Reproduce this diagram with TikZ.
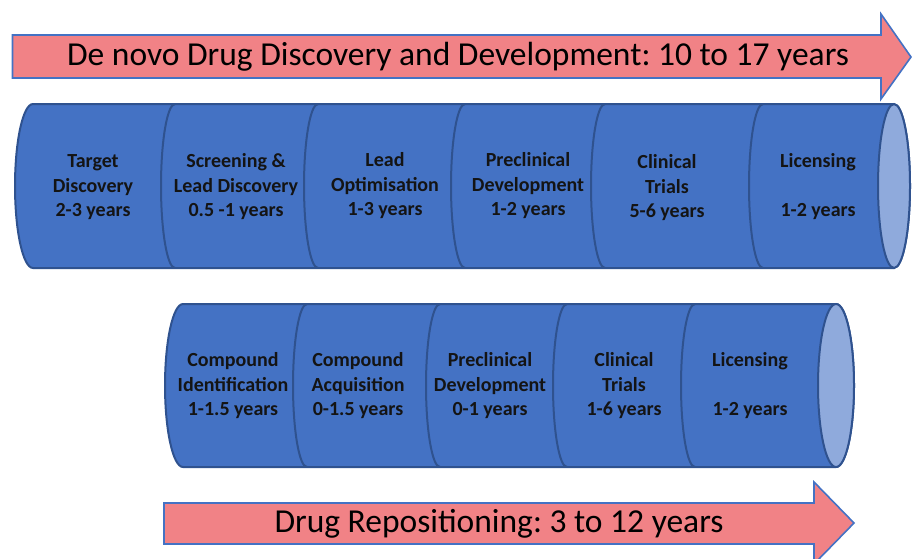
\documentclass[tikz,border=0pt]{standalone}
\usepackage{fontspec}
\setmainfont{Carlito}
\frenchspacing
\definecolor{arrfill}{RGB}{241,130,134}
\definecolor{arrline}{RGB}{68,114,196}
\definecolor{cylfill}{RGB}{68,114,196}
\definecolor{cylline}{RGB}{47,82,143}
\definecolor{capfill}{RGB}{143,170,220}
\tikzset{
  arrowshape/.style={fill=arrfill, draw=arrline, line width=1.6pt, line join=miter},
  cylbody/.style={fill=cylfill, draw=cylline, line width=2pt},
  cylcap/.style={fill=capfill, draw=cylline, line width=2pt},
  divider/.style={draw=cylline, line width=2pt},
  stagetext/.style={align=center, font=\fontsize{20}{24.5}\selectfont\bfseries, text=black!92, inner sep=0pt},
  titletext/.style={font=\fontsize{33.5}{38}\selectfont, text=black, inner sep=0pt}
}
\begin{document}
\begin{tikzpicture}[x=1pt,y=-1pt]
\useasboundingbox (0,0) rectangle (912,558);
% top arrow
\draw[arrowshape] (12.5,35) -- (881,35) -- (881,14) -- (911,57) -- (881,99) -- (881,78) -- (12.5,78) -- cycle;
\node[titletext] (toptitle) at (458,57) {De novo Drug Discovery and Development: 10 to 17 years};
% top cylinder
\draw[cylbody] (33,104) -- (894,104) arc[start angle=270, end angle=450, x radius=16, y radius=82]
  -- (33,268) arc[start angle=90, end angle=270, x radius=18, y radius=82] -- cycle;
\foreach \d in {175,318,465,605,763}
  \draw[divider] (\d,104) arc[start angle=270, end angle=90, x radius=14, y radius=82];
\draw[cylcap] (894,186) ellipse[x radius=16, y radius=82];
\node[stagetext] (t1) at (93,187.5) {Target\\Discovery\\2-3 years};
\node[stagetext] (t2) at (236,187) {Screening \&\\Lead Discovery\\0.5 -1 years};
\node[stagetext] (t3) at (385,186) {Lead\\Optimisation\\1-3 years};
\node[stagetext] (t4) at (528,186) {Preclinical\\Development\\1-2 years};
\node[stagetext] (t5) at (667,188) {Clinical\\Trials\\5-6 years};
\node[stagetext] (t6) at (818,186.5) {Licensing\\\mbox{}\\1-2 years};
% bottom cylinder
\draw[cylbody] (183,304) -- (836,304) arc[start angle=270, end angle=450, x radius=18, y radius=81.5]
  -- (183,467) arc[start angle=90, end angle=270, x radius=18, y radius=81.5] -- cycle;
\foreach \d in {307,440,567,695}
  \draw[divider] (\d,304) arc[start angle=270, end angle=90, x radius=14, y radius=81.5];
\draw[cylcap] (836,385.5) ellipse[x radius=18, y radius=81.5];
\node[stagetext] (b1) at (233,386) {Compound\\Identification\\1-1.5 years};
\node[stagetext] (b2) at (358,386) {Compound\\Acquisition\\0-1.5 years};
\node[stagetext] (b3) at (490,386) {Preclinical\\Development\\0-1 years};
\node[stagetext] (b4) at (624,386) {Clinical\\Trials\\1-6 years};
\node[stagetext] (b5) at (750,386) {Licensing\\\mbox{}\\1-2 years};
% bottom arrow
\draw[arrowshape] (164,503) -- (814,503) -- (814,482) -- (854,523) -- (814,564) -- (814,544) -- (164,544) -- cycle;
\node[titletext] (bottitle) at (499,524) {Drug Repositioning: 3 to 12 years};
\end{tikzpicture}
\end{document}
